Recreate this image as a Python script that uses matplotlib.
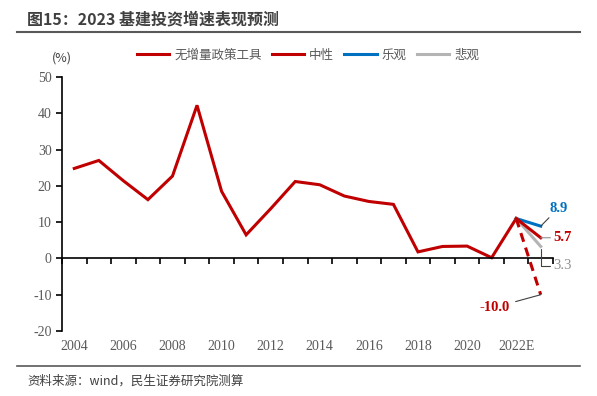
import matplotlib.pyplot as plt
from matplotlib.lines import Line2D

plt.rcParams['font.family'] = ['Noto Sans CJK SC', 'DejaVu Sans']
plt.rcParams['axes.unicode_minus'] = False

# historical infrastructure investment growth (%)
years = list(range(2004, 2023))
growth = [24.8, 27.0, 21.4, 16.2, 22.7, 42.2, 18.5, 6.5, 13.7, 21.2,
          20.3, 17.2, 15.7, 14.9, 1.8, 3.3, 3.4, 0.2, 11.0]

# 2023E scenarios
year_e = 2023
s_none = -10.0     # 无增量政策工具
s_mid = 5.7        # 中性
s_opt = 8.9        # 乐观
s_pes = 3.3        # 悲观

tick_years = [2004, 2006, 2008, 2010, 2012, 2014, 2016, 2018, 2020, 2022]
tick_labels = ['2004', '2006', '2008', '2010', '2012', '2014', '2016', '2018', '2020', '2022E']

red = '#C00000'
blue = '#0070C0'
grey = '#B4B4B4'
txt = '#595959'

fig = plt.figure(figsize=(5.97, 3.96), dpi=100)
ax = fig.add_axes([62 / 597, 1 - 331 / 396, 491 / 597, 254 / 396])

ax.plot(years, growth, color=red, lw=2.2, solid_joinstyle='miter')
ax.plot([years[-1], year_e], [growth[-1], s_opt], color=blue, lw=2.2)
ax.plot([years[-1], year_e], [growth[-1], s_pes], color=grey, lw=2.2)
ax.plot([years[-1], year_e], [growth[-1], s_mid], color=red, lw=2.2)
ax.plot([years[-1], year_e], [growth[-1], s_none], color=red, lw=2.2, ls=(0, (3, 2)))

ax.set_xlim(2003.5, 2023.5)
ax.set_ylim(-20, 50)
ax.set_yticks(range(-20, 51, 10))
for s in ['top', 'right']:
    ax.spines[s].set_visible(False)
ax.spines['bottom'].set_position(('data', 0))
ax.spines['left'].set_linewidth(1.2)
ax.spines['bottom'].set_linewidth(1.2)
ax.set_xticks([y + 0.5 for y in range(2003, 2024)])
ax.set_xticklabels([])
ax.tick_params(axis='x', direction='out', length=4, width=1.2)
ax.tick_params(axis='y', direction='out', length=4, width=1.2, labelsize=10,
               labelcolor=txt)
for lab in ax.get_yticklabels():
    lab.set_family('Liberation Serif')

for yr, lab in zip(tick_years, tick_labels):
    ax.text(yr, -0.035, lab, transform=ax.get_xaxis_transform(), ha='center',
            va='top', fontsize=10, color=txt, family='Liberation Serif')

# value labels for 2023E
ax.annotate(f'{s_opt}', xy=(year_e, s_opt), xytext=(6, 8), textcoords='offset points',
            color=blue, fontsize=10.5, fontweight='bold', family='Liberation Serif',
            ha='left', va='bottom',
            arrowprops=dict(arrowstyle='-', color='#404040', lw=0.8, shrinkA=0, shrinkB=0))
ax.annotate(f'{s_mid}', xy=(year_e, s_mid), xytext=(9, 0), textcoords='offset points',
            color=red, fontsize=10.5, fontweight='bold', family='Liberation Serif',
            ha='left', va='center',
            arrowprops=dict(arrowstyle='-', color='#909090', lw=0.8, shrinkA=0, shrinkB=0))
ax.annotate(f'{s_pes}', xy=(year_e, s_pes), xytext=(9, -14), textcoords='offset points',
            color='#909090', fontsize=10.5, family='Liberation Serif',
            ha='left', va='center',
            arrowprops=dict(arrowstyle='-', color='#404040', lw=0.8, shrinkA=0, shrinkB=2,
                            connectionstyle='angle,angleA=0,angleB=90,rad=0'))
ax.annotate(f'{s_none}', xy=(year_e, s_none), xytext=(-22, -9), textcoords='offset points',
            color=red, fontsize=10.5, fontweight='bold', family='Liberation Serif',
            ha='right', va='center',
            arrowprops=dict(arrowstyle='-', color='#404040', lw=0.8, shrinkA=2, shrinkB=0))

ax.text(0, 1.05, '(%)', transform=ax.transAxes, ha='center', va='bottom',
        fontsize=9, color='#404040')

handles = [Line2D([], [], color=red, lw=2.2), Line2D([], [], color=red, lw=2.2),
           Line2D([], [], color=blue, lw=2.2), Line2D([], [], color=grey, lw=2.2)]
labels = ['无增量政策工具', '中性', '乐观', '悲观']
fig.legend(handles, labels, loc='center', bbox_to_anchor=(308 / 597, 1 - 55 / 396),
           ncol=4, frameon=False, fontsize=9, handlelength=2.6, columnspacing=0.8,
           handletextpad=0.4, labelcolor=txt)

fig.text(27 / 597, 1 - 19 / 396, '图15：2023 基建投资增速表现预测', fontsize=11.5,
         fontweight='bold', color='#404040', ha='left', va='center')
fig.add_artist(Line2D([17 / 597, 580 / 597], [1 - 32 / 396] * 2, color='#595959', lw=1.5))
fig.add_artist(Line2D([17 / 597, 580 / 597], [1 - 366 / 396] * 2, color='#595959', lw=1.2))
fig.text(27 / 597, 1 - 381 / 396, '资料来源：wind，民生证券研究院测算', fontsize=9,
         color='#404040', ha='left', va='center')

fig.savefig('out.png', dpi=100)
